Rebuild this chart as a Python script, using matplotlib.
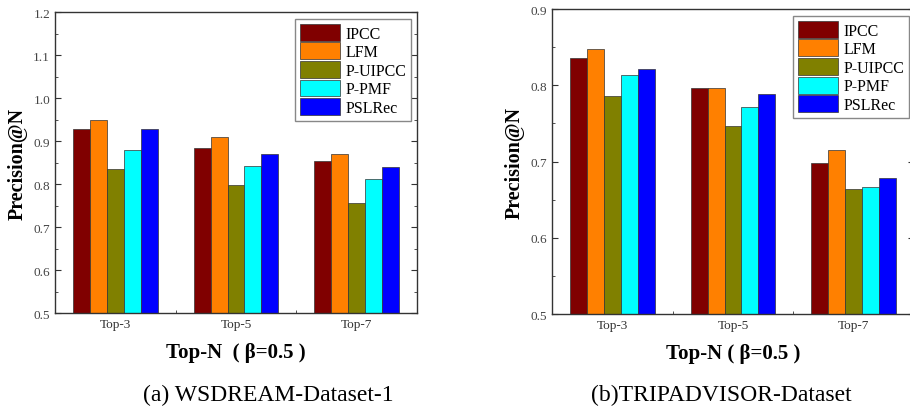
import numpy as np
import matplotlib.pyplot as plt
from matplotlib.ticker import MultipleLocator, FixedLocator

plt.rcParams['font.family'] = ['Liberation Serif', 'DejaVu Serif']

groups = ["Top-3", "Top-5", "Top-7"]
methods = ["IPCC", "LFM", "P-UIPCC", "P-PMF", "PSLRec"]
colors = ["#800000", "#ff8000", "#808000", "#00ffff", "#0000ff"]

# WSDREAM-Dataset-1
ws_ipcc = [0.929, 0.884, 0.854]
ws_lfm = [0.948, 0.910, 0.871]
ws_puipcc = [0.835, 0.798, 0.756]
ws_ppmf = [0.879, 0.841, 0.811]
ws_pslrec = [0.927, 0.871, 0.840]

# TRIPADVISOR-Dataset
ta_ipcc = [0.836, 0.797, 0.698]
ta_lfm = [0.848, 0.796, 0.715]
ta_puipcc = [0.786, 0.747, 0.664]
ta_ppmf = [0.814, 0.771, 0.667]
ta_pslrec = [0.821, 0.788, 0.679]


def draw_panel(ax, series, ylim, xlabel, leg_anchor):
    x = np.arange(1, len(groups) + 1)
    w = 0.14
    for i, (name, vals) in enumerate(zip(methods, series)):
        ax.bar(x + (i - 2) * w, vals, w, color=colors[i], edgecolor="#333333",
               linewidth=0.5, label=name, zorder=2)
    ax.set_xlim(0.5, 3.5)
    ax.set_ylim(*ylim)
    ax.set_xticks(x)
    ax.set_xticklabels(groups, fontsize=9.5, color="#333333")
    ax.xaxis.set_minor_locator(FixedLocator([1.5, 2.5]))
    ax.yaxis.set_major_locator(MultipleLocator(0.1))
    ax.yaxis.set_minor_locator(MultipleLocator(0.05))
    ax.yaxis.set_major_formatter(plt.FuncFormatter(lambda v, p: f"{v:.1f}"))
    ax.tick_params(axis="y", labelsize=9.5, labelcolor="#444444")
    ax.tick_params(which="both", direction="in", right=True, color="#333333")
    ax.tick_params(which="major", length=4.5)
    ax.tick_params(which="minor", length=2.5)
    for s in ax.spines.values():
        s.set_color("#333333")
        s.set_linewidth(1.0)
    ax.set_ylabel("Precision@N", fontsize=14.5, fontweight="bold", labelpad=4)
    ax.set_xlabel(xlabel, fontsize=15, fontweight="bold", labelpad=9)
    ax.legend(loc="upper right", fontsize=11.5, handlelength=2.5, handleheight=1.25,
              handletextpad=0.35, labelspacing=0.05, borderpad=0.3,
              borderaxespad=0, fancybox=False, edgecolor="#888888", framealpha=1,
              bbox_to_anchor=leg_anchor)


fig = plt.figure(figsize=(9.1, 4.14), dpi=100)
ax1 = fig.add_axes([0.0604, 0.2415, 0.3978, 0.727])
ax2 = fig.add_axes([0.6066, 0.2391, 0.3978, 0.7367])

draw_panel(ax1, [ws_ipcc, ws_lfm, ws_puipcc, ws_ppmf, ws_pslrec], (0.5, 1.2),
           "Top-N  ( β=0.5 )", (0.983, 0.977))
draw_panel(ax2, [ta_ipcc, ta_lfm, ta_puipcc, ta_ppmf, ta_pslrec], (0.5, 0.9),
           "Top-N ( β=0.5 )", (0.986, 0.977))

fig.text(0.2945, 0.046, "(a) WSDREAM-Dataset-1", ha="center", va="center", fontsize=17)
fig.text(0.793, 0.046, "(b)TRIPADVISOR-Dataset", ha="center", va="center", fontsize=17)

fig.savefig("out.png", dpi=100)
